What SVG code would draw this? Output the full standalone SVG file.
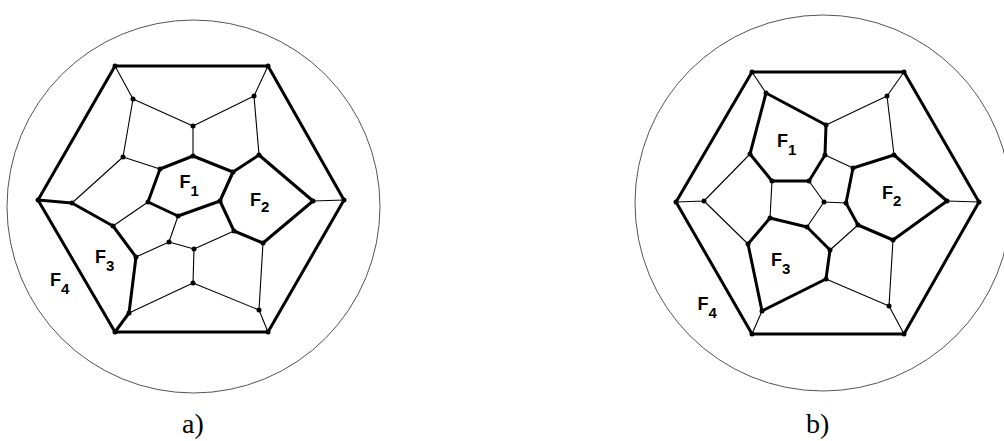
<svg xmlns="http://www.w3.org/2000/svg" width="1004" height="441" viewBox="0 0 1004 441">
<style>
.bg{fill:#fff}
.ring{fill:none;stroke:#555;stroke-width:1}
.tk{stroke:#000;stroke-width:3;stroke-linecap:round;stroke-linejoin:round;fill:none}
.tn{stroke:#000;stroke-width:1.1;stroke-linecap:round;fill:none}
.dot{fill:#000}
.lab{font-family:"Liberation Sans",Arial,sans-serif;font-weight:bold;font-size:18px;fill:#000}
.sub{font-size:15px}
.cap{font-family:"Liberation Serif","Times New Roman",serif;font-size:28px;fill:#000}
</style>
<rect class="bg" x="0" y="0" width="1004" height="441"/>
<circle class="ring" cx="193.5" cy="206.5" r="186.5"/>
<circle class="ring" cx="823" cy="203" r="188"/>
<g id="connectors">
<polygon class="tk" points="115,66 268,66 344,200 268,332 115,332 38,200"/>
<polygon class="tk" points="160,169 193,156 233,172 220,201 178,216 148,202"/>
<polygon class="tk" points="233,172 259,155 313,201 263,243 234,231 220,201"/>
<polyline class="tk" points="38,200 72,203 113,226 136,257 129,313 115,332"/>
<path class="tn" d="M115,66L133,99 M133,99L193,126 M133,99L123,157 M193,126L254,96 M193,126L193,156 M254,96L268,66 M254,96L259,155 M123,157L160,169 M123,157L72,203 M148,202L113,226 M178,216L169,242 M136,257L169,242 M169,242L194,249 M194,249L234,231 M194,249L193,283 M193,283L129,313 M193,283L259,310 M259,310L268,332 M259,310L263,243 M313,201L344,200"/>
<polygon class="tk" points="752,72 904,72 979,202 904,334 752,334 676,202"/>
<polygon class="tk" points="766,93 826,125 825,155 809,181 772,181 750,154"/>
<polygon class="tk" points="853,168 894,155 947,201 893,240 858,225 846,203"/>
<polygon class="tk" points="770,218 807,227 830,250 826,279 762,311 748,244"/>
<path class="tn" d="M752,72L766,93 M826,125L887,96 M887,96L904,72 M887,96L894,155 M750,154L704,201 M704,201L676,202 M704,201L748,244 M772,181L770,218 M809,181L824,202 M824,202L846,203 M824,202L807,227 M825,155L853,168 M947,201L979,202 M858,225L830,250 M826,279L889,306 M889,306L904,334 M889,306L893,240 M762,311L752,334"/>
</g>
<g id="nodes-a" class="dot">
<g id="a-O1"><circle cx="115" cy="66" r="2.5"/></g>
<g id="a-O2"><circle cx="268" cy="66" r="2.5"/></g>
<g id="a-O3"><circle cx="344" cy="200" r="2.5"/></g>
<g id="a-O4"><circle cx="268" cy="332" r="2.5"/></g>
<g id="a-O5"><circle cx="115" cy="332" r="2.5"/></g>
<g id="a-O6"><circle cx="38" cy="200" r="2.5"/></g>
<g id="a-n1"><circle cx="133" cy="99" r="2.5"/></g>
<g id="a-n2"><circle cx="193" cy="126" r="2.5"/></g>
<g id="a-n3"><circle cx="254" cy="96" r="2.5"/></g>
<g id="a-n4"><circle cx="123" cy="157" r="2.5"/></g>
<g id="a-n5"><circle cx="160" cy="169" r="2.5"/></g>
<g id="a-n6"><circle cx="193" cy="156" r="2.5"/></g>
<g id="a-n7"><circle cx="233" cy="172" r="2.5"/></g>
<g id="a-n8"><circle cx="259" cy="155" r="2.5"/></g>
<g id="a-n9"><circle cx="72" cy="203" r="2.5"/></g>
<g id="a-n10"><circle cx="148" cy="202" r="2.5"/></g>
<g id="a-n11"><circle cx="220" cy="201" r="2.5"/></g>
<g id="a-n12"><circle cx="313" cy="201" r="2.5"/></g>
<g id="a-n13"><circle cx="113" cy="226" r="2.5"/></g>
<g id="a-n14"><circle cx="178" cy="216" r="2.5"/></g>
<g id="a-n15"><circle cx="234" cy="231" r="2.5"/></g>
<g id="a-n16"><circle cx="263" cy="243" r="2.5"/></g>
<g id="a-n17"><circle cx="136" cy="257" r="2.5"/></g>
<g id="a-n18"><circle cx="169" cy="242" r="2.5"/></g>
<g id="a-n19"><circle cx="194" cy="249" r="2.5"/></g>
<g id="a-n20"><circle cx="129" cy="313" r="2.5"/></g>
<g id="a-n21"><circle cx="193" cy="283" r="2.5"/></g>
<g id="a-n22"><circle cx="259" cy="310" r="2.5"/></g>
</g>
<g id="nodes-b" class="dot">
<g id="b-P1"><circle cx="752" cy="72" r="2.5"/></g>
<g id="b-P2"><circle cx="904" cy="72" r="2.5"/></g>
<g id="b-P3"><circle cx="979" cy="202" r="2.5"/></g>
<g id="b-P4"><circle cx="904" cy="334" r="2.5"/></g>
<g id="b-P5"><circle cx="752" cy="334" r="2.5"/></g>
<g id="b-P6"><circle cx="676" cy="202" r="2.5"/></g>
<g id="b-m1"><circle cx="766" cy="93" r="2.5"/></g>
<g id="b-m2"><circle cx="826" cy="125" r="2.5"/></g>
<g id="b-m3"><circle cx="887" cy="96" r="2.5"/></g>
<g id="b-m4"><circle cx="750" cy="154" r="2.5"/></g>
<g id="b-m5"><circle cx="825" cy="155" r="2.5"/></g>
<g id="b-m6"><circle cx="894" cy="155" r="2.5"/></g>
<g id="b-m7"><circle cx="853" cy="168" r="2.5"/></g>
<g id="b-m8"><circle cx="772" cy="181" r="2.5"/></g>
<g id="b-m9"><circle cx="809" cy="181" r="2.5"/></g>
<g id="b-m10"><circle cx="704" cy="201" r="2.5"/></g>
<g id="b-m11"><circle cx="824" cy="202" r="2.5"/></g>
<g id="b-m12"><circle cx="846" cy="203" r="2.5"/></g>
<g id="b-m13"><circle cx="947" cy="201" r="2.5"/></g>
<g id="b-m14"><circle cx="770" cy="218" r="2.5"/></g>
<g id="b-m15"><circle cx="807" cy="227" r="2.5"/></g>
<g id="b-m16"><circle cx="858" cy="225" r="2.5"/></g>
<g id="b-m17"><circle cx="893" cy="240" r="2.5"/></g>
<g id="b-m18"><circle cx="748" cy="244" r="2.5"/></g>
<g id="b-m19"><circle cx="830" cy="250" r="2.5"/></g>
<g id="b-m20"><circle cx="826" cy="279" r="2.5"/></g>
<g id="b-m21"><circle cx="889" cy="306" r="2.5"/></g>
<g id="b-m22"><circle cx="762" cy="311" r="2.5"/></g>
</g>
<g id="labels">
<text class="lab" x="179.5" y="187.5">F<tspan class="sub" dy="8">1</tspan></text>
<text class="lab" x="250" y="205.5">F<tspan class="sub" dy="6.5">2</tspan></text>
<text class="lab" x="95" y="263">F<tspan class="sub" dy="7.5">3</tspan></text>
<text class="lab" x="50" y="286">F<tspan class="sub" dy="7.5">4</tspan></text>
<text class="lab" x="777" y="147">F<tspan class="sub" dy="7.5">1</tspan></text>
<text class="lab" x="882" y="198.5">F<tspan class="sub" dy="7.5">2</tspan></text>
<text class="lab" x="771" y="266">F<tspan class="sub" dy="7.5">3</tspan></text>
<text class="lab" x="697.5" y="309.5">F<tspan class="sub" dy="8">4</tspan></text>
<text class="cap" x="182" y="433">a)</text>
<text class="cap" x="806" y="433">b)</text>
</g>
</svg>
